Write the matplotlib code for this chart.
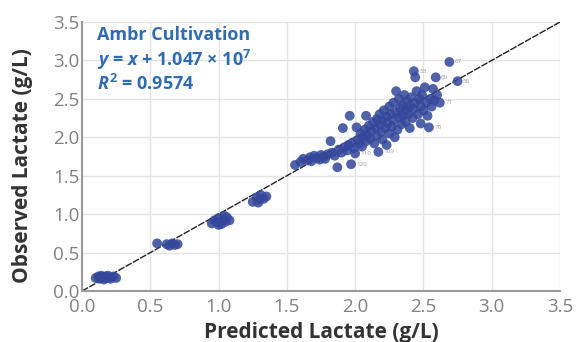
import matplotlib
matplotlib.use("Agg")
import matplotlib.pyplot as plt

plt.rcParams['font.family'] = ['Open Sans', 'DejaVu Sans']
plt.rcParams['mathtext.fontset'] = 'custom'
plt.rcParams['mathtext.rm'] = 'Open Sans:bold'
plt.rcParams['mathtext.it'] = 'Open Sans:italic:bold'
plt.rcParams['mathtext.bf'] = 'Open Sans:bold'

# Predicted vs observed lactate (g/L)
predicted = [
    0.10, 0.12, 0.13, 0.15, 0.16, 0.17, 0.18, 0.20, 0.21, 0.23, 0.25, 0.14, 0.19,
    0.55, 0.62, 0.64, 0.66, 0.68, 0.70,
    0.95, 0.97, 0.99, 1.00, 1.02, 1.03, 1.05, 1.06, 1.08, 1.00, 1.04,
    1.25, 1.28, 1.30, 1.31, 1.33, 1.35, 1.29,
    1.56, 1.60, 1.62, 1.65, 1.67, 1.68, 1.70, 1.72, 1.74, 1.75, 1.77, 1.78, 1.80,
    1.82, 1.83, 1.85, 1.87, 1.88, 1.90, 1.91, 1.92, 1.94, 1.95, 1.96, 1.97, 1.98,
    1.99, 2.00, 2.01, 2.02, 2.03, 2.04, 2.05, 2.06, 2.07, 2.08, 2.08, 2.09, 2.10,
    2.11, 2.12, 2.13, 2.14, 2.15, 2.16, 2.16, 2.17, 2.18, 2.18, 2.19, 2.20, 2.20,
    2.21, 2.22, 2.23, 2.23, 2.24, 2.25, 2.25, 2.26, 2.27, 2.28, 2.28, 2.29, 2.30,
    2.30, 2.31, 2.32, 2.32, 2.33, 2.34, 2.35, 2.35, 2.36, 2.37, 2.37, 2.38, 2.39,
    2.40, 2.40, 2.41, 2.42, 2.43, 2.43, 2.44, 2.44, 2.45, 2.46, 2.47, 2.48, 2.48,
    2.49, 2.50, 2.51, 2.52, 2.53, 2.54, 2.55, 2.56, 2.57, 2.58, 2.59, 2.60, 2.62,
    2.69, 2.75,
]
observed = [
    0.17, 0.19, 0.16, 0.18, 0.15, 0.19, 0.17, 0.18, 0.16, 0.19, 0.17, 0.20, 0.20,
    0.62, 0.61, 0.59, 0.62, 0.60, 0.61,
    0.88, 0.92, 0.90, 0.95, 0.87, 0.93, 0.90, 0.96, 0.92, 0.86, 0.98,
    1.16, 1.22, 1.19, 1.25, 1.20, 1.23, 1.15,
    1.64, 1.68, 1.72, 1.70, 1.74, 1.69, 1.76, 1.73, 1.71, 1.77, 1.75, 1.72, 1.78,
    1.95, 1.80, 1.76, 1.61, 1.84, 1.80, 2.12, 1.87, 1.83, 1.90, 2.28, 1.65, 1.93,
    1.86, 1.79, 2.13, 1.97, 1.92, 2.05, 1.88, 2.00, 2.10, 2.28, 1.95, 2.03, 2.15,
    1.98, 2.08, 2.20, 1.92, 2.12, 2.24, 2.02, 1.81, 2.17, 2.30, 2.07, 2.22, 1.97,
    2.35, 2.12, 1.90, 2.27, 2.18, 2.05, 2.40, 2.30, 2.14, 2.45, 2.22, 2.00, 2.60,
    2.33, 2.10, 2.26, 2.50, 2.38, 2.17, 2.42, 2.28, 2.55, 2.20, 2.35, 2.47, 2.30,
    2.12, 2.40, 2.52, 2.25, 2.86, 2.37, 2.78, 2.45, 2.60, 2.30, 2.50, 2.18, 2.40,
    2.55, 2.35, 2.65, 2.45, 2.28, 2.13, 2.50, 2.40, 2.63, 2.48, 2.78, 2.55, 2.45,
    2.98, 2.73,
]

# Small sample-id labels beside some points
label_text = ["67", "58", "69", "70", "109", "110", "120", "71", "53"]
label_x = [2.69, 2.75, 2.59, 2.54, 2.17, 2.00, 1.97, 2.62, 2.43]
label_y = [2.98, 2.73, 2.78, 2.13, 1.81, 1.79, 1.65, 2.45, 2.86]

xticks = [0.0, 0.5, 1.0, 1.5, 2.0, 2.5, 3.0, 3.5]
yticks = [0.0, 0.5, 1.0, 1.5, 2.0, 2.5, 3.0, 3.5]

fig = plt.figure(figsize=(5.76, 3.42), dpi=100)
ax = fig.add_axes([0.1424, 0.149, 0.8298, 0.7867])

ax.set_xlim(0, 3.5)
ax.set_ylim(0, 3.5)
ax.set_xticks(xticks)
ax.set_yticks(yticks)
ax.set_xticklabels([f"{t:.1f}" for t in xticks])
ax.set_yticklabels([f"{t:.1f}" for t in yticks])
ax.grid(True, color='#e4e4e4', linewidth=1.0)
ax.set_axisbelow(True)
for s in ['top', 'right']:
    ax.spines[s].set_visible(False)
for s in ['left', 'bottom']:
    ax.spines[s].set_color('#9a9a9a')
    ax.spines[s].set_linewidth(1.5)
ax.tick_params(length=0, labelsize=13.5, labelcolor='#808080')
ax.tick_params(axis='x', pad=5)
ax.tick_params(axis='y', pad=2)

ax.plot([0, 3.5], [0, 3.5], color='#222222', linewidth=1.0, linestyle=(0, (5, 1)), zorder=2)

ax.scatter(predicted, observed, s=50, color='#34479a', alpha=0.85, edgecolors='none', zorder=3)

for t, x, y in zip(label_text, label_x, label_y):
    ax.text(x + 0.04, y, t, fontsize=4.5, color='#9a9a9a', va='center', ha='left', zorder=4)

ax.set_xlabel("Predicted Lactate (g/L)", fontsize=15, fontweight='bold', color='#333333', va='center')
ax.set_ylabel("Observed Lactate (g/L)", fontsize=15, fontweight='bold', color='#333333', va='center')
ax.xaxis.set_label_coords(0.5, -0.153)
ax.yaxis.set_label_coords(-0.125, 0.465)

blue = '#2f6cb3'
ax.text(0.11, 3.33, "Ambr Cultivation", fontsize=13, fontweight='bold', color=blue, va='center')
ax.text(0.11, 3.00, r"$y$ = $x$ + 1.047 × 10$^{7}$", fontsize=13, fontweight='bold', color=blue, va='center')
ax.text(0.11, 2.69, r"$R^{2}$ = 0.9574", fontsize=13, fontweight='bold', color=blue, va='center')

fig.savefig("out.png", dpi=100)
